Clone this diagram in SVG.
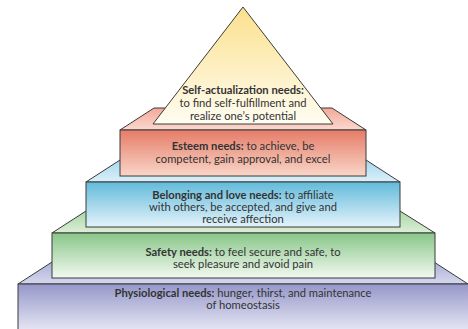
<svg xmlns="http://www.w3.org/2000/svg" width="468" height="329" viewBox="0 0 468 329">
<defs>
<linearGradient id="gTri" x1="0" y1="0" x2="0" y2="1"><stop offset="0" stop-color="#fbe08c"/><stop offset="1" stop-color="#fffdf2"/></linearGradient>
<linearGradient id="gEs" x1="0" y1="0" x2="0" y2="1"><stop offset="0" stop-color="#e57c68"/><stop offset="1" stop-color="#f9d6c8"/></linearGradient>
<linearGradient id="gEsT" x1="0" y1="0" x2="0" y2="1"><stop offset="0" stop-color="#f3a898"/><stop offset="1" stop-color="#fbd9cf"/></linearGradient>
<linearGradient id="gBe" x1="0" y1="0" x2="0" y2="1"><stop offset="0" stop-color="#62badb"/><stop offset="1" stop-color="#e4f3fa"/></linearGradient>
<linearGradient id="gBeT" x1="0" y1="0" x2="0" y2="1"><stop offset="0" stop-color="#a6d8ec"/><stop offset="1" stop-color="#dcf0f9"/></linearGradient>
<linearGradient id="gSa" x1="0" y1="0" x2="0" y2="1"><stop offset="0" stop-color="#88c688"/><stop offset="1" stop-color="#f2f9f0"/></linearGradient>
<linearGradient id="gSaT" x1="0" y1="0" x2="0" y2="1"><stop offset="0" stop-color="#a9d7a5"/><stop offset="1" stop-color="#dcefd8"/></linearGradient>
<linearGradient id="gPh" x1="0" y1="0" x2="0" y2="1"><stop offset="0" stop-color="#9597c8"/><stop offset="1" stop-color="#ececf8"/></linearGradient>
<linearGradient id="gPhT" x1="0" y1="0" x2="0" y2="1"><stop offset="0" stop-color="#aeb0d8"/><stop offset="1" stop-color="#d6d7ee"/></linearGradient>
</defs>
<style>
.e{stroke:#3a3a3a;stroke-width:1;stroke-linejoin:miter}
text{font-family:Lato,"Liberation Sans",sans-serif;font-size:11.2px;fill:#333;text-anchor:middle}
.b{font-weight:bold}
</style>
<g id="physiological">
<polygon class="e" fill="url(#gPhT)" points="18,284 52,262 434,262 468,284"/>
<rect class="e" fill="url(#gPh)" x="18" y="284" width="452" height="50"/>
<text x="243" y="297"><tspan class="b">Physiological needs:</tspan> hunger, thirst, and maintenance</text>
<text x="243" y="309">of homeostasis</text>
</g>
<g id="safety">
<polygon class="e" fill="url(#gSaT)" points="52,233 86,211 400,211 435,233"/>
<rect class="e" fill="url(#gSa)" x="52" y="233" width="383" height="45"/>
<text x="243" y="256"><tspan class="b">Safety needs:</tspan> to feel secure and safe, to</text>
<text x="243" y="268">seek pleasure and avoid pain</text>
</g>
<g id="belonging">
<polygon class="e" fill="url(#gBeT)" points="86,182 120,160 366,160 400,182"/>
<rect class="e" fill="url(#gBe)" x="86" y="182" width="314" height="45"/>
<text x="243" y="199"><tspan class="b">Belonging and love needs:</tspan> to affiliate</text>
<text x="243" y="211">with others, be accepted, and give and</text>
<text x="243" y="223">receive affection</text>
</g>
<g id="esteem">
<polygon class="e" fill="url(#gEsT)" points="120,130 154,108 332,108 366,130"/>
<rect class="e" fill="url(#gEs)" x="120" y="130" width="246" height="46"/>
<text x="243" y="150"><tspan class="b">Esteem needs:</tspan> to achieve, be</text>
<text x="243" y="163">competent, gain approval, and excel</text>
</g>
<g id="self-actualization">
<polygon class="e" fill="url(#gTri)" points="243,7 153,124 333,124"/>
<text x="243" y="94" class="b">Self-actualization needs:</text>
<text x="243" y="107">to find self-fulfillment and</text>
<text x="243" y="120">realize one’s potential</text>
</g>
<g id="connectors"></g>
</svg>
